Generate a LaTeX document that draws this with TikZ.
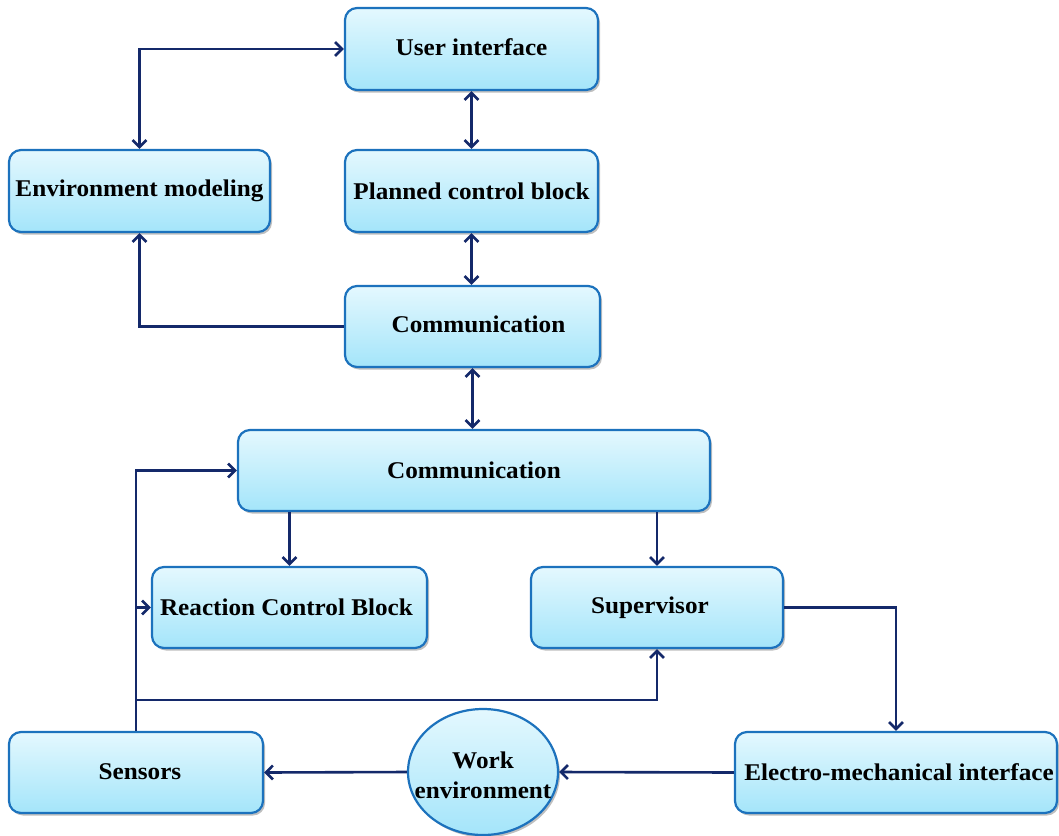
\documentclass[tikz,border=0pt]{standalone}
\usepackage{fontspec}
\setmainfont{Liberation Serif}[FakeStretch=1.05]
\usetikzlibrary{arrows.meta,shadows,shapes.geometric}
\definecolor{topc}{HTML}{E4F8FE}
\definecolor{botc}{HTML}{A4E5FA}
\definecolor{bordc}{HTML}{1C72BD}
\definecolor{arrc}{HTML}{14296A}
\tikzset{
  box/.style={draw=bordc, line width=2.2pt, rounded corners=12pt,
    top color=topc, bottom color=botc, inner sep=0pt,
    drop shadow={shadow xshift=2pt, shadow yshift=-2.5pt, fill=black, opacity=0.25},
    font=\bfseries\fontsize{24}{30}\selectfont, align=center},
  oval/.style={box, ellipse, rounded corners=0pt},
  txt/.style={font=\bfseries\fontsize{24}{30}\selectfont, align=center, inner sep=0pt},
  tip/.tip={Straight Barb[length=7pt,width=14pt]},
  conn/.style={draw=arrc, line width=2.6pt, arrows={-tip}},
  conn2/.style={draw=arrc, line width=2.6pt, arrows={tip-tip}}
}
\begin{document}
\begin{tikzpicture}[x=1pt,y=-1pt]
\useasboundingbox (0,0) rectangle (1059,835);
\node[box, minimum width=253pt, minimum height=82pt] (ui) at (471.5,49) {\raisebox{4pt}{User interface}};
\node[box, minimum width=261pt, minimum height=82pt] (env) at (139.5,191) {Environment modeling};
\node[box, minimum width=253pt, minimum height=82pt] (pcb) at (471.5,191) {Planned control block};
\node[box, minimum width=255pt, minimum height=81pt] (c1) at (472.5,326.5) {\hspace*{12pt}\raisebox{5pt}{Communication}};
\node[box, minimum width=472pt, minimum height=81pt] (c2) at (474,470.5) {Communication};
\node[box, minimum width=275pt, minimum height=81pt] (rcb) at (289.5,607.5) {\hspace*{-6pt}\raisebox{-2pt}{Reaction Control Block}};
\node[box, minimum width=252pt, minimum height=81pt] (sup) at (657,607.5) {\raisebox{4pt}{Supervisor}\hspace*{14pt}};
\node[box, minimum width=254pt, minimum height=81pt] (sens) at (136,772.5) {\hspace*{8pt}\raisebox{2pt}{Sensors}};
\node[oval, minimum width=150pt, minimum height=126pt] (we) at (483,772) {};
\node[txt] (wet) at (483,775) {Work\\environment};
\node[box, minimum width=322pt, minimum height=81pt] (emi) at (896,772.5) {\hspace*{6pt}Electro-mechanical interface};
\coordinate (jn) at (136,700);
\draw[conn2] (ui.west) -| (env.north);
\draw[conn2] (ui.south) -- (pcb.north);
\draw[conn2] (pcb.south) -- (pcb.south |- c1.north);
\draw[conn] (c1.west) -| (env.south);
\draw[conn2] (c1.south) -- (c1.south |- c2.north);
\draw[conn] (c2.south -| rcb.north) -- (rcb.north);
\draw[conn] (c2.south -| sup.north) -- (sup.north);
\draw[conn] (sens.north) |- (c2.west);
\draw[conn] (sens.north |- rcb.west) -- (rcb.west);
\draw[conn] (jn) -| (sup.south);
\draw[conn] (sup.east) -| (emi.north);
\draw[conn] (emi.west) -- (we.east);
\draw[conn] (we.west) -- (sens.east);
\end{tikzpicture}
\end{document}
